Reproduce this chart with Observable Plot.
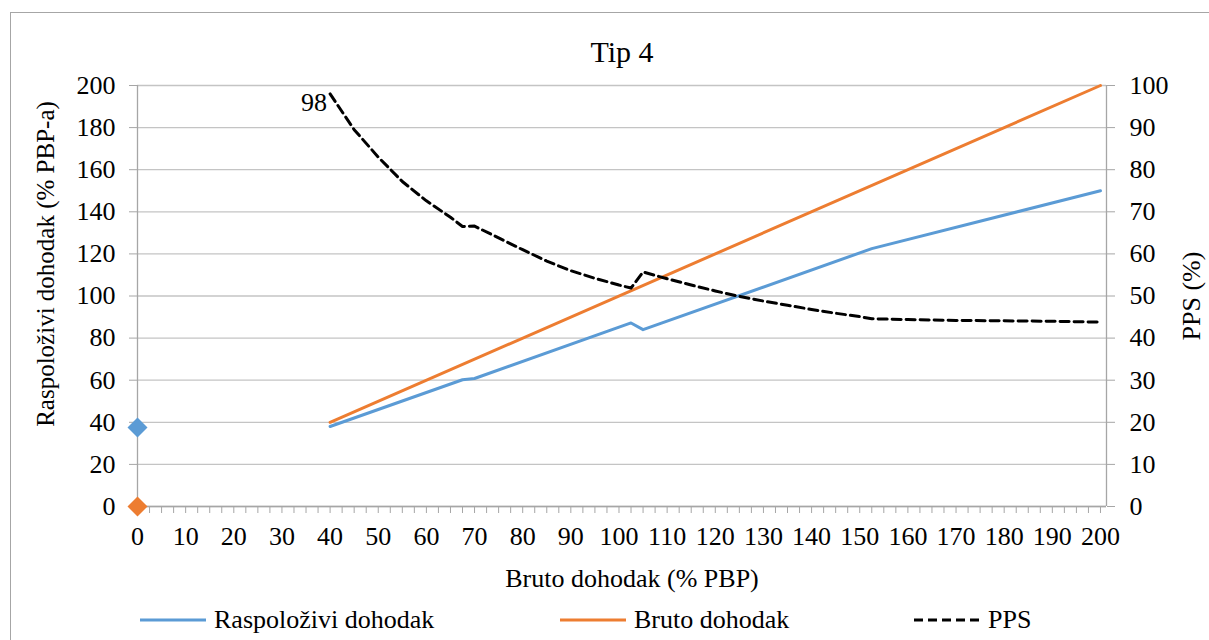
<!DOCTYPE html>
<html>
<head>
<meta charset="utf-8">
<script src="https://cdn.jsdelivr.net/npm/d3@7"></script>
<script src="https://cdn.jsdelivr.net/npm/@observablehq/plot@0.6"></script>
<style>
  html, body { margin: 0; padding: 0; background: #fff; overflow: hidden; }
  #wrap { position: relative; width: 1209px; height: 640px; overflow: hidden; }
  #border { position: absolute; left: 10px; top: 12px; width: 1300px; height: 700px; border: 1px solid #a6a6a6; }
  #chart { position: absolute; left: 0; top: 0; }
  #legend { position: absolute; left: 0; top: 600px; width: 1209px; height: 40px;
            font-family: "Liberation Serif", "DejaVu Serif", "Noto Serif", serif; font-size: 26px; color: #000; }
  .item { position: absolute; top: 0; height: 40px; display: flex; align-items: center; white-space: nowrap; }
  .item svg { display: block; margin-right: 8px; }
</style>
</head>
<body>
<div id="wrap">
  <div id="border"></div>
  <div id="chart"></div>
  <div id="legend"></div>
</div>
<script>
// ---- Data ----
const title = "Tip 4";
const xLabel = "Bruto dohodak (% PBP)";
const yLeftLabel = "Raspoloživi dohodak (% PBP-a)";
const yRightLabel = "PPS (%)";
const seriesNames = ["Raspoloživi dohodak", "Bruto dohodak", "PPS"];
const seriesColors = ["#5B9BD5", "#ED7D31", "#000000"];

// Raspoloživi dohodak (left axis)
const dispX = [40, 67.5, 70, 102.5, 105, 152.5, 200];
const dispY = [38, 60.2, 60.8, 87.2, 84, 122.5, 150];
// Bruto dohodak (left axis)
const grossX = [40, 200];
const grossY = [40, 200];
// Single markers at x = 0
const markerX = [0, 0];
const markerY = [37.5, 0];
const markerSeries = ["Raspoloživi dohodak", "Bruto dohodak"];
// PPS (right axis, %)
const ppsX = [40, 45, 50, 55, 60, 65, 67.5, 70, 75, 80, 85, 90, 95, 100, 102.5, 105, 110, 115, 120, 125, 130, 135, 140, 145, 150, 152.5, 160, 170, 180, 190, 200];
const ppsY = [98, 89.5, 83, 77.2, 72.6, 68.7, 66.5, 66.6, 63.8, 61, 58.3, 56, 54.2, 52.6, 51.9, 55.7, 54.1, 52.6, 51.2, 49.9, 48.8, 47.8, 46.8, 45.9, 45.1, 44.6, 44.4, 44.2, 44.1, 44, 43.8];
const ppsLabel = "98";

// Tick values
const yLeftTicks = [0, 20, 40, 60, 80, 100, 120, 140, 160, 180, 200];
const yRightTicks = [0, 10, 20, 30, 40, 50, 60, 70, 80, 90, 100];
const xTicks = [0, 10, 20, 30, 40, 50, 60, 70, 80, 90, 100, 110, 120, 130, 140, 150, 160, 170, 180, 190, 200];
const xMinorStep = 2.5;

// ---- Build tables ----
const disp = dispX.map((x, i) => ({x, y: dispY[i]}));
const gross = grossX.map((x, i) => ({x, y: grossY[i]}));
const pps = ppsX.map((x, i) => ({x, v: ppsY[i]}));
const markers = markerX.map((x, i) => ({x, y: markerY[i], s: markerSeries[i]}));
const xMinor = d3.range(0, 200 + 1e-9, xMinorStep);
const rightScale = 200 / 100; // right axis 0–100 mapped onto left 0–200

const font = '"Liberation Serif", "DejaVu Serif", "Noto Serif", serif';
const axisGray = "#a6a6a6";
const gridGray = "#c4c4c4";

const chart = Plot.plot({
  width: 1209,
  height: 600,
  marginLeft: 137,
  marginRight: 103,
  marginTop: 85,
  marginBottom: 94,
  x: {domain: [0, 201.25]},
  y: {domain: [0, 200]},
  color: {domain: seriesNames, range: seriesColors},
  style: {fontFamily: font, fontSize: "26px", color: "#000", background: "transparent", overflow: "visible"},
  marks: [
    Plot.gridY(yLeftTicks, {stroke: gridGray, strokeOpacity: 1, strokeWidth: 1.3}),
    Plot.ruleX([0, 201.25], {stroke: axisGray, strokeWidth: 1.3}),
    Plot.ruleY([0], {stroke: axisGray, strokeWidth: 1.3}),
    Plot.axisY({anchor: "left", ticks: yLeftTicks, tickSize: 8, tickPadding: 14, label: null, stroke: axisGray, fill: "#000", fontFamily: font}),
    Plot.axisY({anchor: "right", ticks: yLeftTicks, tickFormat: (d) => String(d / rightScale), tickSize: 8, tickPadding: 15, label: null, stroke: axisGray, fill: "#000", fontFamily: font}),
    Plot.axisX({ticks: xMinor, tickSize: 7, tickFormat: () => "", label: null, stroke: axisGray}),
    Plot.axisX({ticks: xTicks, tickSize: 0, tickPadding: 20, label: null, fill: "#000", fontFamily: font}),
    Plot.line(gross, {x: "x", y: "y", stroke: seriesColors[1], strokeWidth: 3}),
    Plot.line(disp, {x: "x", y: "y", stroke: seriesColors[0], strokeWidth: 3}),
    Plot.line(pps, {x: "x", y: (d) => d.v * rightScale, stroke: seriesColors[2], strokeWidth: 3, strokeDasharray: "9,5"}),
    Plot.text(pps.slice(0, 1), {x: "x", y: (d) => d.v * rightScale, text: () => ppsLabel, textAnchor: "end", dx: -3, dy: 9, fontSize: 26, fontFamily: font}),
    Plot.dot(markers, {x: "x", y: "y", fill: "s", symbol: "diamond2", r: 9, stroke: null}),
    Plot.text([title], {text: (d) => d, frameAnchor: "top", lineAnchor: "middle", dy: -33, fontSize: 30, fontFamily: font}),
    Plot.text([xLabel], {text: (d) => d, frameAnchor: "bottom", lineAnchor: "middle", dy: 72, dx: 10, fontSize: 26, fontFamily: font}),
    Plot.text([yLeftLabel], {text: (d) => d, frameAnchor: "left", textAnchor: "middle", rotate: -90, dx: -92, dy: -32, fontSize: 25, fontFamily: font}),
    Plot.text([yRightLabel], {text: (d) => d, frameAnchor: "right", textAnchor: "middle", rotate: -90, dx: 85, fontSize: 26, fontFamily: font})
  ]
});
document.getElementById("chart").append(chart);

// ---- Legend ----
const legend = document.getElementById("legend");
const legendLeft = [140, 560, 914];
seriesNames.forEach((name, i) => {
  const item = document.createElement("div");
  item.className = "item";
  item.style.left = legendLeft[i] + "px";
  const dash = i === 2 ? ' stroke-dasharray="9,5"' : "";
  item.innerHTML = `<svg width="66" height="10"><line x1="0" x2="66" y1="5" y2="5" stroke="${seriesColors[i]}" stroke-width="3"${dash}/></svg><span>${name}</span>`;
  legend.append(item);
});
</script>
</body>
</html>
